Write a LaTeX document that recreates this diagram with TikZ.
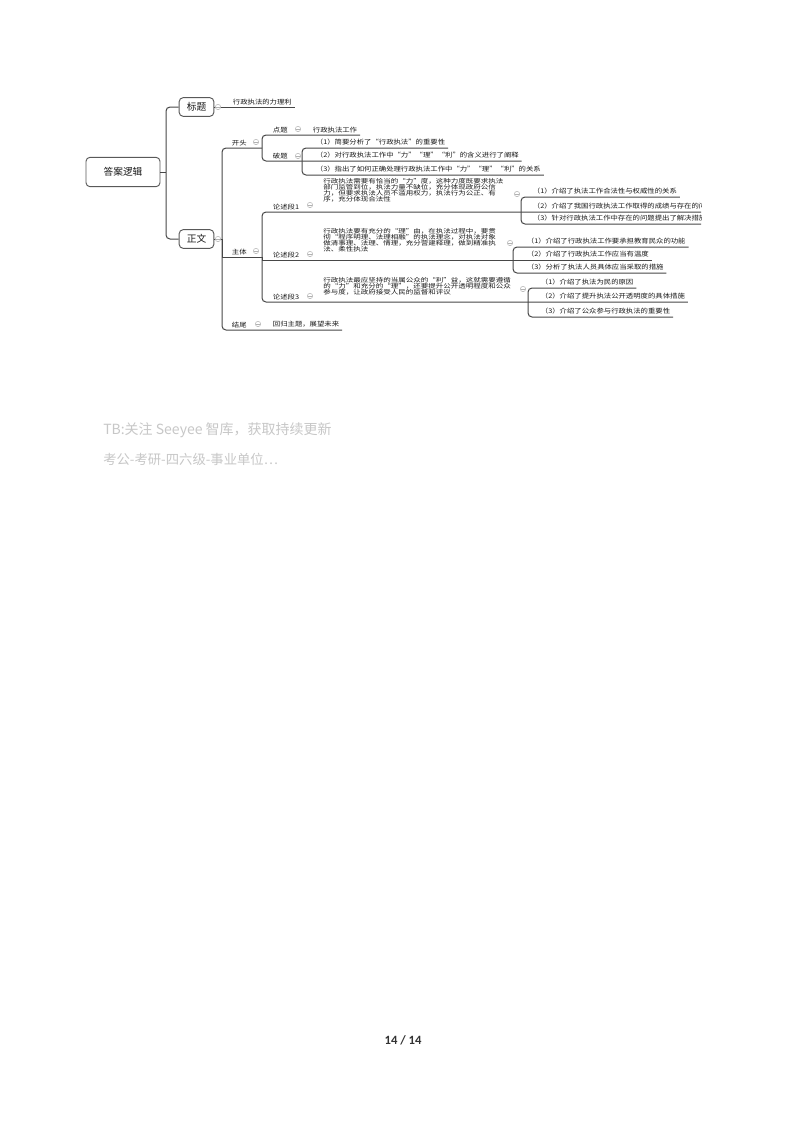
\documentclass[tikz,border=0pt]{standalone}
\usepackage{fontspec}
\setmainfont{Carlito}
\newfontfamily\cjk[FakeStretch=1.15]{Noto Sans CJK SC}
\newfontfamily\cjkwide[FakeStretch=1.25]{Noto Sans CJK SC}
\newfontfamily\cjkbox{Noto Sans CJK SC}

\begin{document}
\begin{tikzpicture}[x=0.75pt,y=-0.75pt,
    link/.style={draw=black!72,line width=0.75pt},
    topic/.style={draw=black!65,line width=0.7pt,rounded corners=3pt,fill=white,inner sep=0pt,
      font=\cjkbox\fontsize{7.3pt}{8pt}\selectfont,text=black!90},
    lbl/.style={anchor=south west,inner xsep=2pt,inner ysep=1.6pt,
      font=\cjk\fontsize{4.8pt}{5pt}\selectfont,text=black!90},
    para/.style={anchor=north west,inner sep=0pt,align=left,
      font=\cjkwide\fontsize{4.5pt}{4.6pt}\selectfont,text=black!90},
    fold/.style={circle,draw=black!30,fill=white,line width=0.4pt,inner sep=0pt,minimum size=4pt,
      path picture={\draw[black!30,line width=0.4pt] ([xshift=-1.2pt]path picture bounding box.center)
        -- ([xshift=1.2pt]path picture bounding box.center);}}]
  \useasboundingbox[fill=white] (0,0) rectangle (800,1132);

  \begin{scope}
    \clip (80,80) rectangle (701,340);
    \node[topic,minimum width=55.5pt,minimum height=22pt] (root) at (123,172) {答案逻辑};
    \node[topic,minimum width=26pt,minimum height=14pt] (bt) at (196.5,107) {标题};
    \node[topic,minimum width=26pt,minimum height=14pt] (zw) at (196.5,239) {正文};

    \node[lbl] (btx) at (230,107) {行政执法的力理利};
    \node[lbl] (kt) at (229,148) {开头};
    \node[lbl] (zt) at (229,257) {主体};
    \node[lbl] (jw) at (229,330) {结尾};
    \node[lbl] (jwx) at (270,330) {回归主题，展望未来};
    \node[lbl] (dt) at (270,135) {点题};
    \node[lbl] (dtx) at (310,135) {行政执法工作};
    \node[lbl] (pt) at (270,161) {破题};
    \node[lbl] (pt1) at (313,148) {（1）简要分析了“行政执法”的重要性};
    \node[lbl] (pt2) at (313,161) {（2）对行政执法工作中“力”“理”“利”的含义进行了阐释};
    \node[lbl] (pt3) at (313,175) {（3）指出了如何正确处理行政执法工作中“力”“理”“利”的关系};
    \node[lbl] (ls1) at (270,212) {论述段1};
    \node[lbl] (ls2) at (270,260) {论述段2};
    \node[lbl] (ls3) at (270,302) {论述段3};

    \node[para] (m1) at (323,178) {行政执法需要有恰当的“力”度，这种力度既要求执法\\
      部门监管到位，执法力量不缺位，充分体现政府公信\\
      力，但要求执法人员不滥用权力，执法行为公正、有\\
      序，充分体现合法性};
    \node[para] (m2) at (323,228) {行政执法要有充分的“理”由，在执法过程中，要贯\\
      彻“程序明理、法理相融”的执法理念，对执法对象\\
      做清事理、法理、情理，充分营建释理，做到精准执\\
      法、柔性执法};
    \node[para] (m3) at (323,277) {行政执法最应坚持的当属公众的“利”益，这就需要遵循\\
      的“力”和充分的“理”，还要提升公开透明程度和公众\\
      参与度，让政府接受人民的监督和评议};

    \node[lbl] (a1) at (530,197) {（1）介绍了执法工作合法性与权威性的关系};
    \node[lbl] (a2) at (530,212) {（2）介绍了我国行政执法工作取得的成绩与存在的问题};
    \node[lbl] (a3) at (530,224) {（3）针对行政执法工作中存在的问题提出了解决措施};
    \node[lbl] (b1) at (524,247) {（1）介绍了行政执法工作要承担教育民众的功能};
    \node[lbl] (b2) at (524,260) {（2）介绍了行政执法工作应当有温度};
    \node[lbl] (b3) at (524,273) {（3）分析了执法人员具体应当采取的措施};
    \node[lbl] (c1) at (538,288) {（1）介绍了执法为民的原因};
    \node[lbl] (c2) at (538,302) {（2）介绍了提升执法公开透明度的具体措施};
    \node[lbl] (c3) at (538,317) {（3）介绍了公众参与行政执法的重要性};

    \coordinate (j0) at (166,172);
    \coordinate (j1) at (222,239);
    \coordinate (j2) at (262,148);
    \coordinate (j3) at (262,257);
    \coordinate (j4) at (302,161);
    \coordinate (j5) at (521,212);
    \coordinate (j6) at (513,260);
    \coordinate (j7) at (528,302);

    \draw[link] (root.east) -- (j0);
    \draw[link,rounded corners=3pt] (bt.west) -| (j0) |- (zw.west);
    \draw[link] (bt.east) -- (btx.south east);
    \draw[link] (zw.east) -- (j1);
    \draw[link,rounded corners=3pt] (j2) -| (j1) |- (jwx.south east);
    \draw[link] (j1) |- (j3);
    \draw[link,rounded corners=3pt] (dtx.south east) -| (j2) |- (pt2.south east);
    \draw[link,rounded corners=3pt] (pt1.south east) -| (j4) |- (pt3.south east);
    \draw[link,rounded corners=3pt] (a2.south east) -| (j3) |- (c2.south east);
    \draw[link] (j3) |- (b2.south east);
    \draw[link,rounded corners=3pt] (a1.south east) -| (j5) |- (a3.south east);
    \draw[link,rounded corners=3pt] (b1.south east) -| (j6) |- (b3.south east);
    \draw[link,rounded corners=3pt] (c1.south east) -| (j7) |- (c3.south east);

    \foreach \p [count=\i] in {(218,107),(218,239),(256,142),(298,129),(298,156),(310,205),
        (256,251),(310,254),(310,296),(258,324),(517,194),(510,243),(523,289)}
      \node[fold] (fold\i) at \p {};
  \end{scope}

  \node[anchor=west,inner sep=0pt,text=black!22,font=\cjkbox\fontsize{10.5pt}{12pt}\selectfont]
    (wm1) at (103,430) {TB:关注 Seeyee 智库，获取持续更新};
  \node[anchor=west,inner sep=0pt,text=black!22,font=\cjkbox\fontsize{10pt}{12pt}\selectfont]
    (wm2) at (103,459) {考公-考研-四六级-事业单位…};
  \node[inner sep=0pt,text=black!80,font=\bfseries\fontsize{9.5pt}{11pt}\selectfont]
    (page) at (403,1040) {14 / 14};
\end{tikzpicture}
\end{document}
